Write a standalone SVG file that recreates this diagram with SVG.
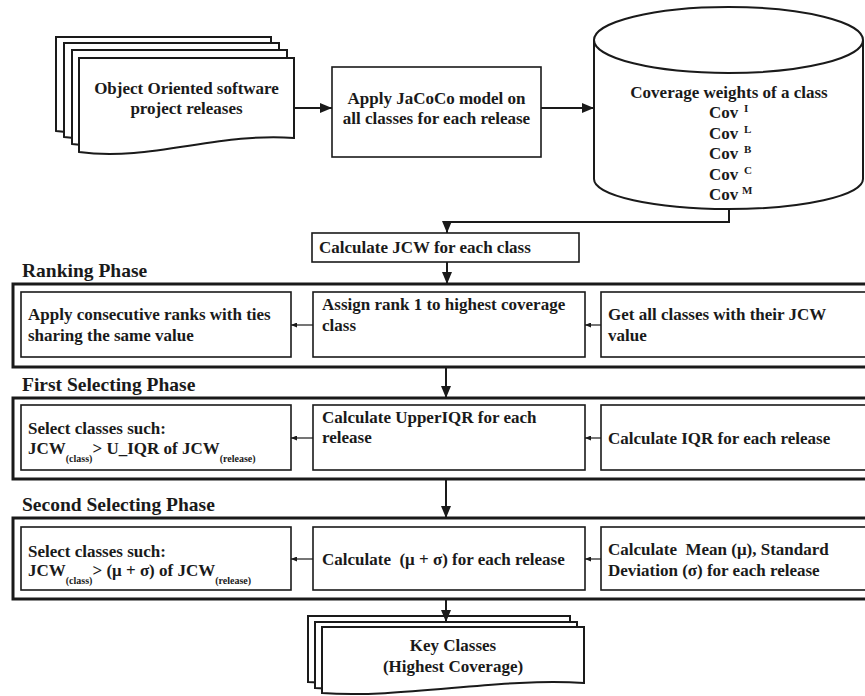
<svg xmlns="http://www.w3.org/2000/svg" width="865" height="696" viewBox="0 0 865 696">
<style>
.t{font-family:"Liberation Serif","Times New Roman",serif;font-weight:bold;font-size:17px;fill:#1a1a1a}
.ph{font-size:19.5px}
.mid{text-anchor:middle}
.sub{font-size:10px}
.sup{font-size:11px}
.box{fill:#fff;stroke:#1a1a1a;stroke-width:1.6}
.frame{fill:none;stroke:#1a1a1a;stroke-width:3}
.pg{fill:#fff;stroke:#1a1a1a;stroke-width:2}
.c{stroke:#1a1a1a;stroke-width:2;fill:none}
.cs{stroke:#1a1a1a;stroke-width:1.2;fill:none}
</style>
<defs>
<marker id="ah" markerWidth="12" markerHeight="10" refX="12" refY="5" orient="auto" markerUnits="userSpaceOnUse"><path d="M0,0 L12,5 L0,10 z" fill="#1a1a1a"/></marker>
<marker id="as" markerWidth="6" markerHeight="5" refX="6" refY="2.5" orient="auto" markerUnits="userSpaceOnUse"><path d="M0,0 L6,2.5 L0,5 z" fill="#1a1a1a"/></marker>
<path id="doc1" d="M0,0 H215 V80 C140,74 70,104 0,94 Z"/>
<path id="doc2" d="M0,0 H262 V56 C180,50 80,72 0,66 Z"/>
</defs>
<rect width="865" height="696" fill="#fff"/>

<g id="releases">
<use href="#doc1" class="pg" transform="translate(56,37)"/>
<use href="#doc1" class="pg" transform="translate(64,43)"/>
<use href="#doc1" class="pg" transform="translate(72,50)"/>
<use href="#doc1" class="pg" transform="translate(79,58)"/>
<text class="t mid" x="186.5" y="94">Object Oriented software</text>
<text class="t mid" x="186.5" y="114">project releases</text>
</g>

<g id="jacoco">
<rect class="box" x="332" y="67" width="209" height="90"/>
<text class="t mid" x="436.5" y="104">Apply JaCoCo model on</text>
<text class="t mid" x="436.5" y="124">all classes for each release</text>
</g>

<g id="coverage">
<path class="pg" d="M594,40 V179 A134.5,30 0 0 0 863,179 V40"/>
<ellipse class="pg" cx="728.5" cy="40" rx="134.5" ry="33"/>
<text class="t mid" x="729" y="98">Coverage weights of a class</text>
<text class="t" x="709" y="118">Cov<tspan class="sup" x="744" dy="-6">I</tspan></text>
<text class="t" x="709" y="139">Cov<tspan class="sup" x="744" dy="-6">L</tspan></text>
<text class="t" x="709" y="159">Cov<tspan class="sup" x="744" dy="-6">B</tspan></text>
<text class="t" x="709" y="180">Cov<tspan class="sup" x="744" dy="-6">C</tspan></text>
<text class="t" x="709" y="200">Cov<tspan class="sup" x="742" dy="-6">M</tspan></text>
</g>

<g id="calc-jcw">
<rect class="box" x="312" y="233" width="267" height="29"/>
<text class="t" x="319" y="253">Calculate JCW for each class</text>
</g>

<g id="ranking-phase">
<text class="t ph" x="22" y="277">Ranking Phase</text>
<rect class="frame" x="13" y="284" width="900" height="83"/>
<g id="rank-1">
<rect class="box" x="21" y="292" width="270" height="65"/>
<text class="t" x="28" y="320">Apply consecutive ranks with ties</text>
<text class="t" x="28" y="341">sharing the same value</text>
</g>
<g id="rank-2">
<rect class="box" x="313" y="292" width="272" height="65"/>
<text class="t" x="322" y="310">Assign rank 1 to highest coverage</text>
<text class="t" x="322" y="331">class</text>
</g>
<g id="rank-3">
<rect class="box" x="601" y="292" width="300" height="65"/>
<text class="t" x="608" y="320">Get all classes with their JCW</text>
<text class="t" x="608" y="341">value</text>
</g>
</g>

<g id="first-phase">
<text class="t ph" x="22" y="391">First Selecting Phase</text>
<rect class="frame" x="13" y="398" width="900" height="81"/>
<g id="first-1">
<rect class="box" x="21" y="405" width="270" height="65"/>
<text class="t" x="28" y="434">Select classes such:</text>
<text class="t" x="28" y="454">JCW<tspan class="sub" dy="8">(class)</tspan><tspan dy="-8">&gt; U_IQR of JCW</tspan><tspan class="sub" dy="8">(release)</tspan></text>
</g>
<g id="first-2">
<rect class="box" x="313" y="405" width="272" height="65"/>
<text class="t" x="322" y="423">Calculate UpperIQR for each</text>
<text class="t" x="322" y="443">release</text>
</g>
<g id="first-3">
<rect class="box" x="601" y="405" width="300" height="65"/>
<text class="t" x="608" y="444">Calculate IQR for each release</text>
</g>
</g>

<g id="second-phase">
<text class="t ph" x="22" y="511">Second Selecting Phase</text>
<rect class="frame" x="13" y="518" width="900" height="81"/>
<g id="second-1">
<rect class="box" x="21" y="527" width="270" height="63"/>
<text class="t" x="28" y="557">Select classes such:</text>
<text class="t" x="28" y="576">JCW<tspan class="sub" dy="8">(class)</tspan><tspan dy="-8">&gt; (μ + σ) of JCW</tspan><tspan class="sub" dy="8">(release)</tspan></text>
</g>
<g id="second-2">
<rect class="box" x="313" y="527" width="272" height="63"/>
<text class="t" x="322" y="565" xml:space="preserve">Calculate  (μ + σ) for each release</text>
</g>
<g id="second-3">
<rect class="box" x="601" y="527" width="300" height="63"/>
<text class="t" x="608" y="555" xml:space="preserve">Calculate  Mean (μ), Standard</text>
<text class="t" x="608" y="576">Deviation (σ) for each release</text>
</g>
</g>

<g id="key-classes">
<use href="#doc2" class="pg" transform="translate(308,616)"/>
<use href="#doc2" class="pg" transform="translate(315,622)"/>
<use href="#doc2" class="pg" transform="translate(322,627)"/>
<text class="t mid" x="453" y="651">Key Classes</text>
<text class="t mid" x="453" y="672">(Highest Coverage)</text>
</g>

<g id="connectors">
<path class="c" d="M294,108 H332" marker-end="url(#ah)"/>
<path class="c" d="M541,108 H594" marker-end="url(#ah)"/>
<path class="c" d="M729,209 V222 H447 V233" marker-end="url(#ah)"/>
<path class="c" d="M447,262 V284" marker-end="url(#ah)"/>
<path class="c" d="M446,368 V398" marker-end="url(#ah)"/>
<path class="c" d="M446,480 V518" marker-end="url(#ah)"/>
<path class="c" d="M446,600 V622" marker-end="url(#ah)"/>
<path class="cs" d="M601,325 H585" marker-end="url(#as)"/>
<path class="cs" d="M313,325 H291" marker-end="url(#as)"/>
<path class="cs" d="M601,438 H585" marker-end="url(#as)"/>
<path class="cs" d="M313,438 H291" marker-end="url(#as)"/>
<path class="cs" d="M601,559 H585" marker-end="url(#as)"/>
<path class="cs" d="M313,559 H291" marker-end="url(#as)"/>
</g>
</svg>
